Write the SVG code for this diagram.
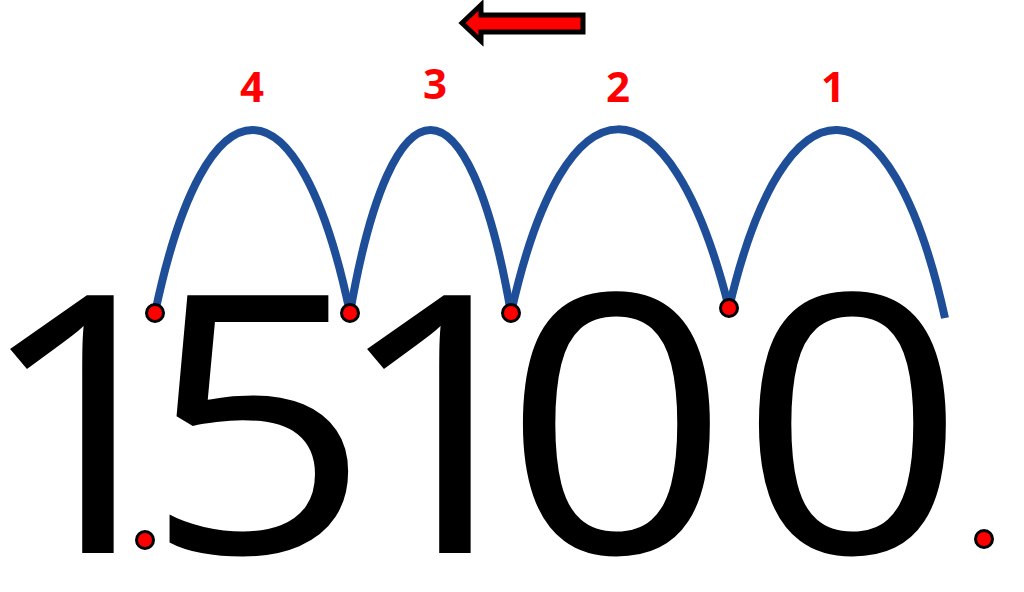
<svg xmlns="http://www.w3.org/2000/svg" width="1024" height="592" viewBox="0 0 1024 592">
<style>
.dig{font-family:"Open Sans","Liberation Sans",sans-serif;font-size:361px;fill:#000;text-anchor:middle}
.lbl{font-family:"Open Sans","Liberation Sans",sans-serif;font-weight:700;font-size:42px;fill:#FF0000;text-anchor:middle}
.arc{fill:none;stroke:#1F4E99;stroke-width:8}
.dot{fill:#FF0000;stroke:#000;stroke-width:3}
</style>
<rect width="1024" height="592" fill="#fff"/>
<g id="digits">
<text class="dig" transform="scale(1.1,1)" x="79.77 234.09 404.32 560.45 775" y="553">15100</text>
</g>
<g id="connectors">
<path class="arc" d="M155,313 C206,69 299,69 350,313"/>
<path class="arc" d="M350,313 C392,69 469,69 511,313"/>
<path class="arc" d="M511,313 C565,69 669,69 729,308"/>
<path class="arc" d="M729,308 C785,69 890,69 945,318"/>
</g>
<g id="dots">
<circle class="dot" cx="155" cy="313" r="8.5"/>
<circle class="dot" cx="350" cy="313" r="8.5"/>
<circle class="dot" cx="511" cy="313" r="8.5"/>
<circle class="dot" cx="729" cy="308" r="8.5"/>
<circle class="dot" cx="145" cy="540" r="8.5"/>
<circle class="dot" cx="984" cy="539" r="8.5"/>
</g>
<g id="labels">
<text class="lbl" x="252" y="102">4</text>
<text class="lbl" x="435" y="99">3</text>
<text class="lbl" x="618" y="102">2</text>
<text class="lbl" x="833" y="102">1</text>
</g>
<g id="arrow">
<polygon points="462,23 481,5 481,15 583,15 583,32 481,32 481,41" fill="#FF0000" stroke="#000" stroke-width="5"/>
</g>
</svg>
